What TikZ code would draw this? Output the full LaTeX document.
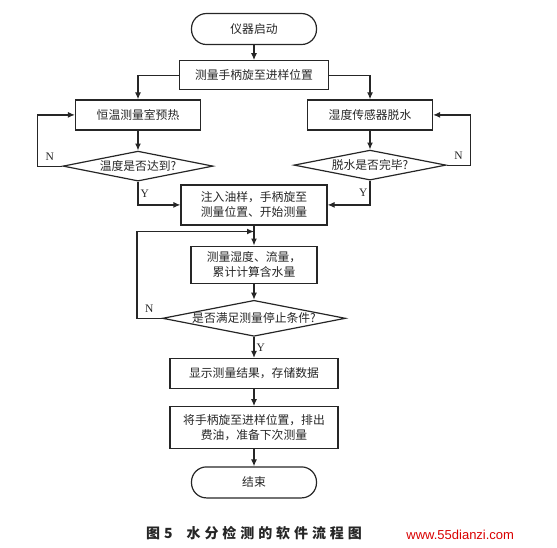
\documentclass[tikz,border=0pt]{standalone}
\usepackage{fontspec}
\setmainfont{Liberation Serif}
\newfontfamily\cjk{Noto Sans CJK SC}
\newfontfamily\wmfont{Liberation Sans}
\usetikzlibrary{arrows.meta, positioning, shapes.geometric}

\begin{document}
\begin{tikzpicture}[
			node distance=17pt,
			line width=1.2pt,
			color=black!85,
			block/.style={
				draw,
				align=center,
				inner sep=2pt,
				font=\cjk\fontsize{11.8pt}{15pt}\selectfont
			},
			term/.style={block, rounded corners=15pt, minimum width=125pt, minimum height=31pt},
			decide/.style={
				draw,
				diamond,
				aspect=5,
				inner sep=0pt,
				font=\cjk\fontsize{11.8pt}{15pt}\selectfont
			},
			arrow/.style={-{Latex[length=7pt, width=6pt]}},
			yn/.style={font=\fontsize{11.5pt}{11.5pt}\selectfont, inner sep=2pt}
			]
			
			\useasboundingbox (0,0) rectangle (557pt,-547pt);
			
			\node[term] (start) at (254pt,-29pt) {仪器启动};
			
			\node[block, below=15pt of start, minimum width=149pt, minimum height=29pt] (init)
			{测量手柄旋至进样位置};
			
			\node[block, below=9pt of init, xshift=-116pt, minimum width=125pt, minimum height=30pt] (heat)
			{恒温测量室预热};
			
			\node[block, below=9pt of init, xshift=116pt, minimum width=125pt, minimum height=30pt] (dry)
			{湿度传感器脱水};
			
			\node[decide, below=20pt of heat, minimum width=150pt, minimum height=30pt] (tcheck)
			{温度是否达到?};
			
			\node[decide, below=19pt of dry, minimum width=152pt, minimum height=30pt] (dcheck)
			{脱水是否完毕?};
			
			\node[block, below=94pt of init, minimum width=146pt, minimum height=40pt] (inject)
			{注入油样，手柄旋至\\测量位置、开始测量};
			
			\coordinate[below=6pt of inject] (merge);
			
			\node[block, below=20pt of inject, minimum width=126pt, minimum height=37pt] (measure)
			{测量湿度、流量，\\累计计算含水量};
			
			\node[decide, below=16pt of measure, minimum width=183pt, minimum height=36pt] (stopcheck)
			{是否满足测量停止条件?};
			
			\node[block, below=21pt of stopcheck, minimum width=168pt, minimum height=30pt] (show)
			{显示测量结果，存储数据};
			
			\node[block, below=of show, minimum width=168pt, minimum height=42pt] (reset)
			{将手柄旋至进样位置，排出\\费油，准备下次测量};
			
			\node[term, below=of reset] (finish) {结束};
			
			\node[below=24pt of finish, font=\cjk\bfseries\fontsize{14pt}{14pt}\selectfont\addfontfeature{LetterSpace=28}] (caption)
			{图5\hspace{1em}水分检测的软件流程图};
			
			\node[anchor=east, font=\wmfont\fontsize{13pt}{13pt}\selectfont, text=red!85!black] (mark) at (518pt,-535pt)
			{www.55dianzi.com};
			
			\draw[arrow] (start) -- (init);
			\draw[arrow] (init.west) -| (heat);
			\draw[arrow] (init.east) -| (dry);
			\draw[arrow] (heat) -- (tcheck);
			\draw[arrow] (dry) -- (dcheck);
			
			\draw[arrow] (tcheck.west) -- ++(-25pt,0) node[yn, above, midway, yshift=3pt] {N} |- (heat.west);
			\draw[arrow] (dcheck.east) -- ++(24pt,0) node[yn, above, midway, yshift=3pt] {N} |- (dry.east);
			\draw[arrow] (tcheck.south) |- node[yn, right, pos=0.25] {Y} (inject.west);
			\draw[arrow] (dcheck.south) |- node[yn, left, pos=0.25] {Y} (inject.east);
			
			\draw[arrow] (inject) -- (measure);
			\draw[arrow] (measure) -- (stopcheck);
			\draw[arrow] (stopcheck.west) -- ++(-25pt,0) node[yn, above, midway, yshift=3pt] {N} |- (merge);
			\draw[arrow] (stopcheck) -- node[yn, right] {Y} (show);
			\draw[arrow] (show) -- (reset);
			\draw[arrow] (reset) -- (finish);
			
		\end{tikzpicture}
\end{document}
